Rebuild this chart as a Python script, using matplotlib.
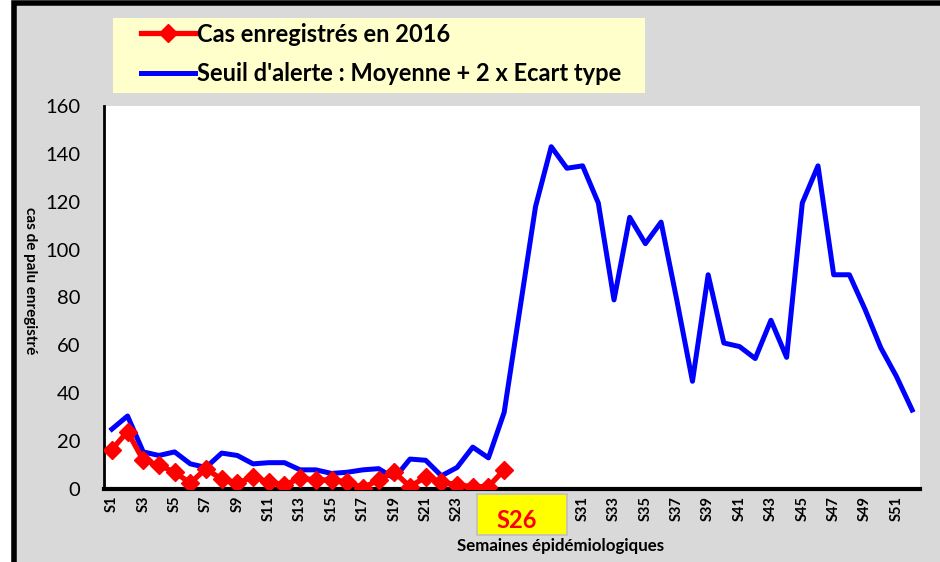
import matplotlib.pyplot as plt
from matplotlib.patches import Rectangle

plt.rcParams['font.family'] = ['Lato', 'DejaVu Sans']

# semaines epidemiologiques S1..S52
weeks = ["S" + str(i) for i in range(1, 53)]

# cas enregistres en 2016 (S1 a S26)
cases_2016 = [16.5, 24, 12, 10, 7, 2.5, 8.5, 4, 2.5, 5, 3, 1.7, 4.5, 3.8,
              3.8, 3, 0.5, 3.8, 7, 1, 5, 3, 1.7, 1, 1, 8]

# seuil d'alerte : moyenne + 2 x ecart type
threshold = [25, 30.5, 15.5, 14, 15.5, 10.5, 9, 15, 14, 10.5, 11, 11, 8, 8,
             6.5, 7, 8, 8.5, 4.5, 12.5, 12, 5.5, 9, 17.5, 13, 32, 75, 118,
             143, 134, 135, 119.5, 79, 113.5, 102.5, 111.5, 79, 45, 89.5, 61,
             59.5, 54.5, 70.5, 55, 119.5, 135, 89.5, 89.5, 75, 59, 47, 33]

y_ticks = [0, 20, 40, 60, 80, 100, 120, 140, 160]

fig = plt.figure(figsize=(9.4, 5.62), dpi=100)
fig.patch.set_facecolor('white')

# cadre gris avec bordure noire
fig.patches.append(Rectangle((13.5 / 940, -0.02), 1.0, 1.0 - 2.5 / 562 + 0.02,
                             transform=fig.transFigure, facecolor='#d9d9d9',
                             edgecolor='black', linewidth=4, zorder=-5))

ax = fig.add_axes([104 / 940, 1 - 489 / 562, 816 / 940, 383 / 562])
ax.set_facecolor('white')

x = list(range(len(weeks)))
ax.plot(x, threshold, color='#0000ff', linewidth=3.6, solid_joinstyle='round',
        label="Seuil d'alerte : Moyenne + 2 x Ecart type", zorder=2)
ax.plot(x[:len(cases_2016)], cases_2016, color='#ff0000', linewidth=3.8,
        marker='D', markersize=9, label="Cas enregistrés en 2016", zorder=3)

ax.set_xlim(-0.5, len(weeks) - 0.5)
ax.set_ylim(0, 160)
ax.set_yticks(y_ticks)
ax.set_yticklabels([str(v) for v in y_ticks], fontsize=14.5)

tick_pos = [i for i in x if i % 2 == 0 and not (24 <= i <= 28)]
ax.set_xticks(tick_pos)
ax.set_xticklabels([weeks[i] for i in tick_pos], rotation=90, fontsize=10.5,
                   fontweight='bold')
ax.tick_params(axis='x', length=0, pad=5)
ax.tick_params(axis='y', length=0, pad=17)

for s in ['top', 'right']:
    ax.spines[s].set_visible(False)
ax.spines['left'].set_linewidth(2)
ax.spines['bottom'].set_linewidth(3)

fig.text(30 / 940, 1 - 281 / 562, "cas de palu enregistré",
         rotation=270, fontsize=11, fontweight='bold', ha='center', va='center')

fig.text(561 / 940, 1 - 546 / 562, "Semaines épidémiologiques", fontsize=12.2,
         fontweight='bold', ha='center', va='center')

# encadre S26
fig.patches.append(Rectangle((477 / 940, 1 - 535 / 562), 90 / 940, 41 / 562,
                             transform=fig.transFigure, facecolor='#ffff00',
                             edgecolor='#bfbfbf', linewidth=1.2, zorder=5))
fig.text(517 / 940, 1 - 521 / 562, "S26", color='#ff0000', fontsize=17,
         fontweight='bold', ha='center', va='center', zorder=6)

# fond de la legende
fig.patches.append(Rectangle((113 / 940, 1 - 93 / 562), 532 / 940, 75 / 562,
                             transform=fig.transFigure, facecolor='#ffffcc',
                             edgecolor='none', zorder=1))

handles, labels = ax.get_legend_handles_labels()
leg = fig.legend(handles[::-1], labels[::-1], loc='upper left',
                 bbox_to_anchor=(137 / 940, 1 - 19 / 562), fontsize=17,
                 frameon=False, handlelength=2.3, handletextpad=0.1,
                 labelspacing=0.7, borderpad=0.15, borderaxespad=0)
for t in leg.get_texts():
    t.set_fontweight('bold')

fig.savefig('out.png', dpi=100)
